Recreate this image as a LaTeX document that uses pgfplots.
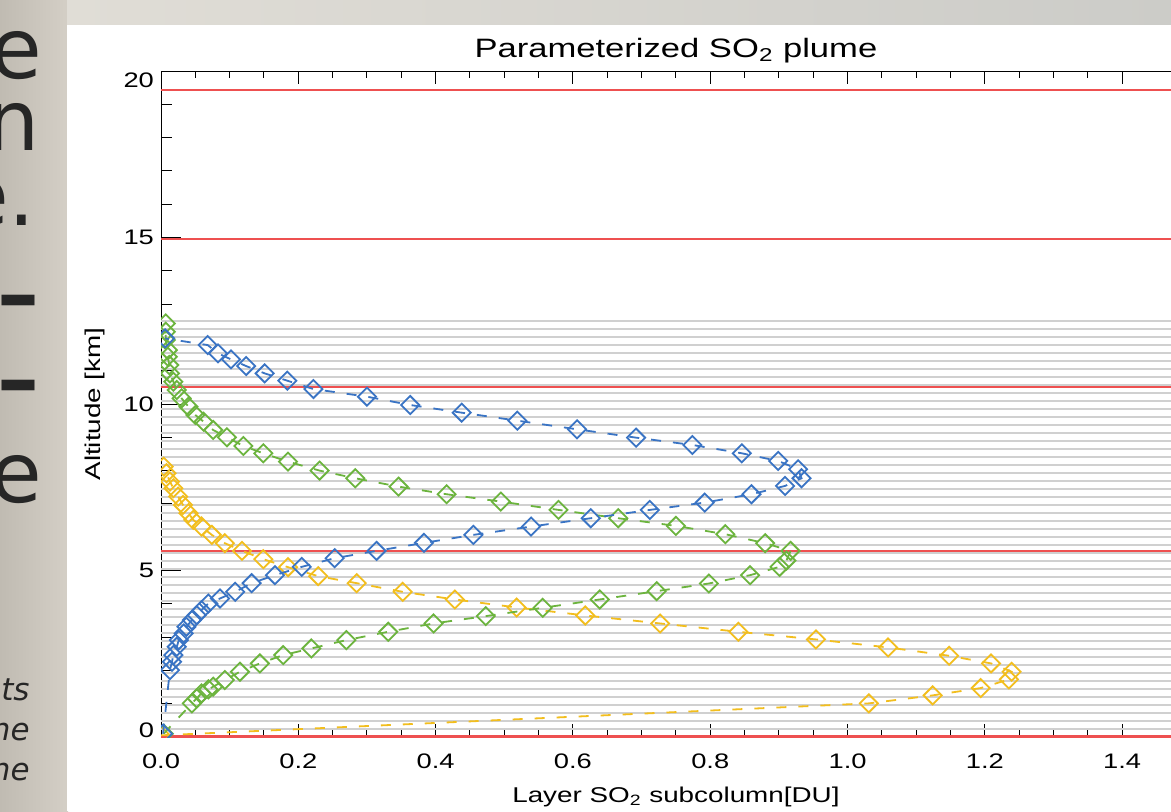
\documentclass[border=0pt]{standalone}
\usepackage{fontspec}
\setmainfont{Liberation Sans}[FakeStretch=1.3]
\newfontfamily\slidefont{DejaVu Sans}
\usepackage{pgfplots}
\pgfplotsset{compat=1.18}
\definecolor{cblue}{RGB}{58,116,196}
\definecolor{cgreen}{RGB}{108,180,62}
\definecolor{cyellow}{RGB}{242,190,30}
\definecolor{cred}{RGB}{238,80,80}
\definecolor{cgrid}{RGB}{208,208,208}
\definecolor{bgA}{RGB}{192,187,178}
\definecolor{bgB}{RGB}{212,207,198}
\definecolor{bgT1}{RGB}{224,221,214}
\definecolor{bgT2}{RGB}{204,204,200}

\pgfplotsset{
  base/.style={
    scale only axis, width=514.9pt, height=333pt,
    xmin=0, xmax=1.5, ymin=0, ymax=20,
    at={(80.5pt,37pt)}, anchor=south west,
    tick align=inside,
    /pgf/number format/assume math mode=true,
    tick label style={font=\fontsize{10.5}{12}\selectfont, black},
    label style={font=\fontsize{10.7}{12}\selectfont},
    axis line style={line width=0.5pt, black},
    every tick/.style={black, line width=0.5pt},
  },
  dat/.style={line width=0.9pt, dash pattern=on 5pt off 6pt,
    mark=square, mark size=3.2pt,
    mark options={solid, rotate=45, line width=0.9pt}},
}

\begin{document}
\begin{tikzpicture}
\useasboundingbox (0,0) rectangle (585.5pt,405.5pt);
\clip (0,0) rectangle (585.5pt,405.5pt);
% slide background
\shade[left color=bgA, right color=bgB] (0,0) rectangle (34pt,405.5pt);
\shade[left color=bgT1, right color=bgT2] (33.5pt,393pt) rectangle (585.5pt,405.5pt);
\fill[white] (33.5pt,0) rectangle (585.5pt,393pt);
\begin{scope}[every node/.style={inner sep=0pt, anchor=base east, text=black!85}]
\node[font=\slidefont\fontsize{42}{42}\selectfont] at (21.5pt,366.5pt) {e};
\node[font=\slidefont\fontsize{42}{42}\selectfont] at (20pt,330.5pt) {n};
\node[font=\slidefont\fontsize{42}{42}\selectfont] at (18pt,293pt) {e.};
\node[font=\slidefont\bfseries\fontsize{42}{42}\selectfont] at (20pt,244pt) {–};
\node[font=\slidefont\bfseries\fontsize{42}{42}\selectfont] at (20pt,201.5pt) {–};
\node[font=\slidefont\fontsize{42}{42}\selectfont] at (21.5pt,154.5pt) {e};
\node[font=\slidefont\itshape\fontsize{15.5}{16}\selectfont] at (15pt,55.5pt) {ts};
\node[font=\slidefont\itshape\fontsize{15.5}{16}\selectfont] at (15pt,35.5pt) {ne};
\node[font=\slidefont\itshape\fontsize{15.5}{16}\selectfont] at (15pt,15.5pt) {ne};
\end{scope}

% y ticks and labels
\begin{axis}[base,
  xtick=\empty,
  ytick={0,5,10,15,20},
  yticklabels={\raisebox{3.5pt}[\height][\depth]{0},5,10,15,\raisebox{-4.5pt}[\height][\depth]{20}},
  minor y tick num=4,
  major tick length=10pt, minor tick length=5.5pt,
  separate axis lines, x axis line style={draw=none},
  ylabel={Altitude [km]},
  ylabel style={at={(axis description cs:-0.0592,0.5)}, anchor=base},
]
\end{axis}

% data, x ticks, grid
\begin{axis}[base,
  ytick=\empty,
  xtick={0,0.2,0.4,0.6,0.8,1.0,1.2,1.4},
  xticklabels={0.0,0.2,0.4,0.6,0.8,1.0,1.2,1.4},
  minor x tick num=3,
  major tick length=6.7pt, minor tick length=3.5pt,
  xticklabel style={yshift=-5pt},
  extra y ticks={0.2404,0.4808,...,12.51},
  extra y tick labels={},
  extra y tick style={grid=major, major grid style={cgrid, line width=1pt}, major tick length=0pt},
  title={Parameterized SO\textsubscript{2} plume},
  title style={at={(axis description cs:0.5,1)}, anchor=base, yshift=1pt, font=\fontsize{13.3}{15}\selectfont},
  xlabel={Layer SO\textsubscript{2} subcolumn[DU]},
  xlabel style={at={(axis description cs:0.5,0)}, anchor=base, yshift=-32.5pt},
  clip=true, clip marker paths=true,
]
% layer boundaries (red)
\addplot[cred, line width=1.8pt] coordinates {(0,0) (1.5,0)};
\addplot[cred, line width=0.9pt] coordinates {(0,5.58) (1.5,5.58)};
\addplot[cred, line width=0.9pt] coordinates {(0,10.5) (1.5,10.5)};
\addplot[cred, line width=1pt] coordinates {(0,14.95) (1.5,14.95)};
\addplot[cred, line width=0.9pt] coordinates {(0,19.42) (1.5,19.42)};

% yellow profile
\addplot[dat, cyellow] coordinates {
(0.0,0.05) (1.031,1.01) (1.124,1.25) (1.194,1.47) (1.235,1.73) (1.239,1.96)
(1.209,2.21) (1.148,2.44) (1.059,2.69) (0.954,2.93) (0.841,3.16) (0.727,3.41)
(0.618,3.65) (0.518,3.89) (0.428,4.13) (0.352,4.36) (0.285,4.62) (0.229,4.83)
(0.185,5.10) (0.149,5.34) (0.118,5.59) (0.093,5.82) (0.074,6.07) (0.059,6.32)
(0.047,6.52) (0.040,6.72) (0.032,6.97) (0.025,7.22) (0.018,7.47) (0.013,7.67)
(0.008,7.92) (0.004,8.12)};

% green profile
\addplot[dat, cgreen] coordinates {
(0.004,0.1) (0.045,1.01) (0.052,1.16) (0.059,1.31) (0.069,1.43) (0.076,1.51)
(0.093,1.71) (0.115,1.96) (0.144,2.21) (0.178,2.46) (0.219,2.66) (0.270,2.91)
(0.331,3.16) (0.397,3.41) (0.473,3.63) (0.556,3.88) (0.639,4.13) (0.722,4.38)
(0.798,4.61) (0.858,4.86) (0.901,5.11) (0.911,5.30) (0.917,5.59) (0.880,5.82)
(0.822,6.09) (0.750,6.34) (0.666,6.57) (0.579,6.82) (0.495,7.07) (0.416,7.29)
(0.346,7.52) (0.283,7.77) (0.231,8.00) (0.185,8.27) (0.149,8.52) (0.120,8.74)
(0.096,9.00) (0.076,9.22) (0.062,9.47) (0.050,9.67) (0.040,9.92) (0.030,10.17)
(0.023,10.42) (0.018,10.67) (0.013,10.92) (0.012,11.17) (0.010,11.42) (0.010,11.62)
(0.007,11.92) (0.007,12.17) (0.007,12.42)};

% blue profile
\addplot[dat, cblue] coordinates {
(0.003,0.1) (0.013,2.01) (0.016,2.26) (0.018,2.46) (0.023,2.71) (0.026,2.91)
(0.033,3.11) (0.037,3.31) (0.045,3.51) (0.052,3.66) (0.059,3.81) (0.069,4.01)
(0.086,4.16) (0.108,4.36) (0.132,4.62) (0.166,4.86) (0.205,5.11) (0.253,5.37)
(0.314,5.59) (0.383,5.83) (0.455,6.07) (0.539,6.32) (0.626,6.57) (0.712,6.82)
(0.792,7.04) (0.860,7.29) (0.909,7.54) (0.933,7.77) (0.928,8.04) (0.899,8.29)
(0.846,8.52) (0.774,8.77) (0.692,8.99) (0.606,9.24) (0.519,9.50) (0.438,9.74)
(0.363,9.97) (0.300,10.22) (0.222,10.45) (0.184,10.70) (0.151,10.92) (0.124,11.14)
(0.102,11.34) (0.083,11.52) (0.068,11.77) (0.006,11.97)};
\end{axis}
\end{tikzpicture}
\end{document}
